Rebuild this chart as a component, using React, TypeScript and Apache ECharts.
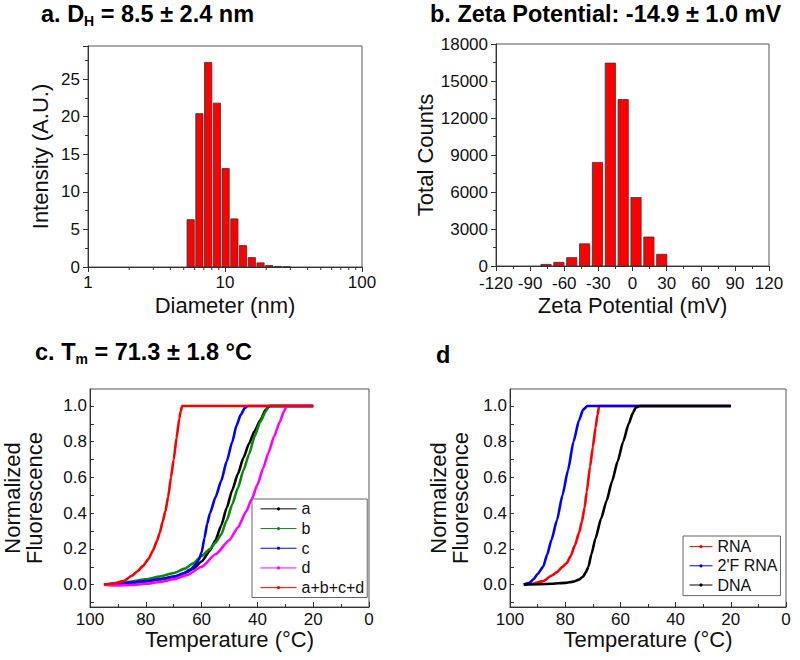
import React, { useEffect, useRef } from 'react';
import * as echarts from 'echarts';

const FONT = '"Liberation Sans", Arial, Helvetica, sans-serif';

// ---- Panel a: DLS size distribution ----
const sizeBins = [5.615, 6.503, 7.531, 8.721, 10.1, 11.7, 13.54, 15.69, 18.17, 21.04, 24.36, 28.21];
const sizeIntensity = [6.3, 20.4, 27.2, 21.8, 13.1, 6.4, 2.85, 1.25, 0.55, 0.2, 0.08, 0.03];
const sizeMinorTicks = [2, 3, 4, 5, 6, 7, 8, 9, 20, 30, 40, 50, 60, 70, 80, 90];

// ---- Panel b: zeta potential ----
const zetaBins = [-76, -64.7, -53.4, -42.1, -30.8, -19.5, -8.2, 3.1, 14.4, 25.7];
const zetaCounts = [130, 300, 680, 1800, 8400, 16450, 13500, 5550, 2350, 950];

// ---- Panel c: melting curves ----
const cTempA = [95, 90, 85, 80, 75, 70, 66, 63, 60, 57, 55, 53, 51, 49, 47, 45, 43, 41, 39, 37, 35.5, 20];
const cValA = [0.0, 0.005, 0.01, 0.02, 0.03, 0.045, 0.065, 0.09, 0.13, 0.19, 0.25, 0.33, 0.43, 0.53, 0.62, 0.71, 0.79, 0.86, 0.92, 0.98, 1.0, 1.0];
const cTempB = [95, 90, 85, 80, 75, 70, 66, 63, 60, 57, 55, 53, 51, 49, 47, 45, 43, 41, 39, 37, 36, 20];
const cValB = [0.0, 0.008, 0.018, 0.03, 0.045, 0.065, 0.09, 0.12, 0.16, 0.2, 0.235, 0.28, 0.36, 0.45, 0.54, 0.64, 0.73, 0.83, 0.91, 0.97, 1.0, 1.0];
const cTempC = [95, 90, 85, 80, 75, 70, 67, 64, 62, 61, 60, 59, 58, 57, 55, 53, 51, 49, 47.5, 46, 44.5, 43.5, 20];
const cValC = [0.0, 0.005, 0.012, 0.02, 0.03, 0.042, 0.06, 0.085, 0.115, 0.14, 0.18, 0.26, 0.34, 0.4, 0.49, 0.58, 0.69, 0.8, 0.89, 0.95, 0.99, 1.0, 1.0];
const cTempD = [95, 90, 85, 80, 75, 70, 65, 60, 55, 50, 47, 44, 42, 40, 38, 36, 34, 32, 30.5, 29.5, 20];
const cValD = [0.0, -0.005, -0.002, 0.005, 0.015, 0.03, 0.055, 0.1, 0.17, 0.25, 0.32, 0.41, 0.48, 0.56, 0.65, 0.74, 0.83, 0.91, 0.97, 1.0, 1.0];
const cTempAll = [95, 92, 88, 85, 83, 81, 79, 77.5, 76, 75, 74, 73, 72, 71, 70, 69, 68, 67.5, 67, 20];
const cValAll = [0.0, 0.005, 0.02, 0.05, 0.075, 0.105, 0.145, 0.19, 0.245, 0.29, 0.35, 0.41, 0.49, 0.6, 0.7, 0.82, 0.93, 0.97, 1.0, 1.0];

// ---- Panel d: RNA / 2'F RNA / DNA ----
const dTempRNA = [95, 92, 88, 85, 83, 81, 79.5, 78, 76.5, 75, 74, 73, 72.2, 71, 70, 69, 68.3, 67.7, 20];
const dValRNA = [0.0, 0.005, 0.02, 0.05, 0.07, 0.1, 0.12, 0.16, 0.22, 0.29, 0.35, 0.43, 0.52, 0.66, 0.77, 0.88, 0.95, 1.0, 1.0];
const dTempF = [95, 93, 91.5, 90, 88, 86.5, 85, 83, 81, 79, 77, 75, 73.5, 72, 20];
const dValF = [0.0, 0.01, 0.03, 0.06, 0.1, 0.17, 0.25, 0.36, 0.5, 0.64, 0.8, 0.92, 0.98, 1.0, 1.0];
const dTempDNA = [95, 90, 85, 80, 77, 75, 73.5, 72.5, 71.6, 70.5, 69, 67, 65, 63, 61, 59, 57, 55.5, 54.5, 53, 20];
const dValDNA = [0.0, 0.002, 0.005, 0.01, 0.017, 0.028, 0.045, 0.07, 0.1, 0.17, 0.26, 0.37, 0.47, 0.58, 0.69, 0.8, 0.9, 0.96, 0.99, 1.0, 1.0];

const meltLabels = [0, 0.2, 0.4, 0.6, 0.8, 1.0];
const meltTicks = [-0.1, 0, 0.1, 0.2, 0.3, 0.4, 0.5, 0.6, 0.7, 0.8, 0.9, 1.0];

const pairs = (t: number[], v: number[]) => t.map((x, i) => [x, v[i]]);

const AX = '#333';
const TXT = '#111';

function labelStyle(margin: number) {
  return { color: TXT, fontSize: 17, fontFamily: FONT, lineHeight: 15, margin };
}

function axisBase(inside: boolean) {
  return {
    axisLine: { show: true, onZero: false, lineStyle: { color: AX, width: 1 } },
    axisTick: { show: true, inside, length: 5, lineStyle: { color: AX } },
    minorTick: { show: true, splitNumber: 2, length: 3, lineStyle: { color: AX } },
    splitLine: { show: false },
    minorSplitLine: { show: false },
    nameTextStyle: { color: TXT, fontSize: 22, fontFamily: FONT },
    nameLocation: 'middle' as const,
  };
}

const titleRich = {
  b: { fontSize: 23.5, fontWeight: 'bold', fontFamily: FONT, color: '#000', lineHeight: 28 },
  s: { fontSize: 14, fontWeight: 'bold', fontFamily: FONT, color: '#000', lineHeight: 13, verticalAlign: 'bottom' },
};

const SIZE_HALF = Math.pow(1.1582, 0.415);
const ZETA_HALF = 4.5;

function lineSeries(name: string, color: string, data: number[][], xi: number) {
  return {
    type: 'line',
    name,
    xAxisIndex: xi,
    yAxisIndex: xi,
    data,
    symbol: 'circle',
    symbolSize: 3,
    showSymbol: false,
    smooth: 0.2,
    smoothMonotone: 'x',
    lineStyle: { color, width: 2.6 },
    itemStyle: { color },
  };
}

export default function App() {
  const ref = useRef<HTMLDivElement>(null);
  useEffect(() => {
    if (!ref.current) return;
    const chart = echarts.init(ref.current, null, { renderer: 'svg' });
    const legendCommon = {
      orient: 'vertical' as const,
      borderColor: '#666',
      borderWidth: 1,
      itemHeight: 4,
      itemGap: 0,
      lineStyle: { width: 1 },
      selectedMode: false,
      textStyle: { color: TXT, fontSize: 16, fontFamily: FONT },
    };
    const option: any = {
      animation: false,
      backgroundColor: '#fff',
      title: [
        { text: '{b|a. D}{s|H}{b| = 8.5 ± 2.4 nm}', left: 41, top: 0, padding: 0, textStyle: { rich: titleRich } },
        { text: '{b|b. Zeta Potential: -14.9 ± 1.0 mV}', left: 430, top: 0, padding: 0, textStyle: { rich: titleRich } },
        { text: '{b|c. T}{s|m}{b| = 71.3 ± 1.8 °C}', left: 35, top: 338, padding: 0, textStyle: { rich: titleRich } },
        { text: '{b|d}', left: 436, top: 341, padding: 0, textStyle: { rich: titleRich } },
      ],
      grid: [
        { left: 88, top: 46, width: 274, height: 221, show: true, borderColor: '#555', borderWidth: 1 },
        { left: 496, top: 44, width: 273, height: 222, show: true, borderColor: '#555', borderWidth: 1 },
        { left: 88, top: 389, width: 281, height: 218, show: true, borderColor: '#555', borderWidth: 1 },
        { left: 510, top: 389, width: 276, height: 218, show: true, borderColor: '#555', borderWidth: 1 },
      ],
      xAxis: [
        {
          ...axisBase(false), gridIndex: 0, type: 'log', logBase: 10, min: 1, max: 100,
          minorTick: { show: false },
          axisLabel: labelStyle(8),
          name: 'Diameter (nm)', nameGap: 27,
        },
        {
          ...axisBase(false), gridIndex: 1, type: 'value', min: -120, max: 120, interval: 30,
          axisLabel: labelStyle(10),
          name: 'Zeta Potential (mV)', nameGap: 28,
        },
        {
          ...axisBase(true), gridIndex: 2, type: 'value', inverse: true, min: 0, max: 100, interval: 20,
          axisLabel: labelStyle(5),
          name: 'Temperature (°C)', nameGap: 21,
        },
        {
          ...axisBase(true), gridIndex: 3, type: 'value', inverse: true, min: 0, max: 100, interval: 20,
          axisLabel: labelStyle(5),
          name: 'Temperature (°C)', nameGap: 21,
        },
      ],
      yAxis: [
        {
          ...axisBase(false), gridIndex: 0, type: 'value', min: 0, max: 29.4, interval: 5,
          axisLabel: { ...labelStyle(8), showMaxLabel: false },
          name: 'Intensity (A.U.)', nameGap: 37,
        },
        {
          ...axisBase(false), gridIndex: 1, type: 'value', min: 0, max: 18000, interval: 3000,
          axisLabel: { ...labelStyle(8), formatter: (v: number) => String(v) },
          name: 'Total Counts', nameGap: 57,
        },
        {
          ...axisBase(true), gridIndex: 2, type: 'value', min: -0.125, max: 1.095,
          minorTick: { show: false },
          axisTick: { show: true, inside: true, length: 4, lineStyle: { color: AX }, customValues: meltTicks },
          axisLabel: { ...labelStyle(3), customValues: meltLabels, formatter: (v: number) => v.toFixed(1) },
          name: 'Normalized\nFluorescence', nameGap: 45,
          nameTextStyle: { ...axisBase(true).nameTextStyle, lineHeight: 22 },
        },
        {
          ...axisBase(true), gridIndex: 3, type: 'value', min: -0.125, max: 1.095,
          minorTick: { show: false },
          axisTick: { show: true, inside: true, length: 4, lineStyle: { color: AX }, customValues: meltTicks },
          axisLabel: { ...labelStyle(3), customValues: meltLabels, formatter: (v: number) => v.toFixed(1) },
          name: 'Normalized\nFluorescence', nameGap: 39,
          nameTextStyle: { ...axisBase(true).nameTextStyle, lineHeight: 22 },
        },
      ],
      legend: [
        {
          ...legendCommon,
          data: ['a', 'b', 'c', 'd', 'a+b+c+d'],
          left: 252, top: 499,
          itemWidth: 36,
          padding: [0, 3, 0, 8],
          textStyle: { ...legendCommon.textStyle, lineHeight: 19.7 },
        },
        {
          ...legendCommon,
          data: ['RNA', "2'F RNA", 'DNA'],
          left: 683, top: 536,
          itemWidth: 23,
          padding: [1, 3, 1, 6],
          textStyle: { ...legendCommon.textStyle, lineHeight: 19.2 },
        },
      ],
      series: [
        {
          type: 'custom', xAxisIndex: 0, yAxisIndex: 0, clip: false, silent: true,
          data: sizeBins.map((b, i) => [b, sizeIntensity[i]]),
          encode: { x: 0, y: 1 },
          renderItem: (_p: any, api: any) => {
            const c = api.value(0) as number;
            const v = api.value(1) as number;
            const tl = api.coord([c / SIZE_HALF, v]);
            const br = api.coord([c * SIZE_HALF, 0]);
            return {
              type: 'rect',
              shape: { x: tl[0], y: tl[1], width: br[0] - tl[0], height: br[1] - tl[1] },
              style: { fill: '#ff0000', stroke: '#333', lineWidth: 0.8 },
            };
          },
        },
        {
          type: 'custom', xAxisIndex: 0, yAxisIndex: 0, clip: false, silent: true,
          data: sizeMinorTicks.map((t) => [t, 0]),
          encode: { x: 0, y: 1 },
          renderItem: (_p: any, api: any) => {
            const pt = api.coord([api.value(0), 0]);
            return {
              type: 'line',
              shape: { x1: pt[0], y1: pt[1], x2: pt[0], y2: pt[1] + 3 },
              style: { stroke: AX, lineWidth: 1 },
            };
          },
        },
        {
          type: 'custom', xAxisIndex: 1, yAxisIndex: 1, clip: false, silent: true,
          data: zetaBins.map((b, i) => [b, zetaCounts[i]]),
          encode: { x: 0, y: 1 },
          renderItem: (_p: any, api: any) => {
            const c = api.value(0) as number;
            const v = api.value(1) as number;
            const tl = api.coord([c - ZETA_HALF, v]);
            const br = api.coord([c + ZETA_HALF, 0]);
            return {
              type: 'rect',
              shape: { x: tl[0], y: tl[1], width: br[0] - tl[0], height: br[1] - tl[1] },
              style: { fill: '#ff0000', stroke: '#333', lineWidth: 0.8 },
            };
          },
        },
        lineSeries('a', '#000000', pairs(cTempA, cValA), 2),
        lineSeries('b', '#0a8a0a', pairs(cTempB, cValB), 2),
        lineSeries('c', '#0000ff', pairs(cTempC, cValC), 2),
        lineSeries('d', '#ff00ff', pairs(cTempD, cValD), 2),
        lineSeries('a+b+c+d', '#ff0000', pairs(cTempAll, cValAll), 2),
        lineSeries('RNA', '#ff0000', pairs(dTempRNA, dValRNA), 3),
        lineSeries("2'F RNA", '#0000ff', pairs(dTempF, dValF), 3),
        lineSeries('DNA', '#000000', pairs(dTempDNA, dValDNA), 3),
      ],
    };
    chart.setOption(option);
    return () => chart.dispose();
  }, []);
  return (
    <div
      ref={ref}
      style={{ position: 'fixed', left: 0, top: 0, width: 800, height: 660, background: '#fff' }}
    />
  );
}
